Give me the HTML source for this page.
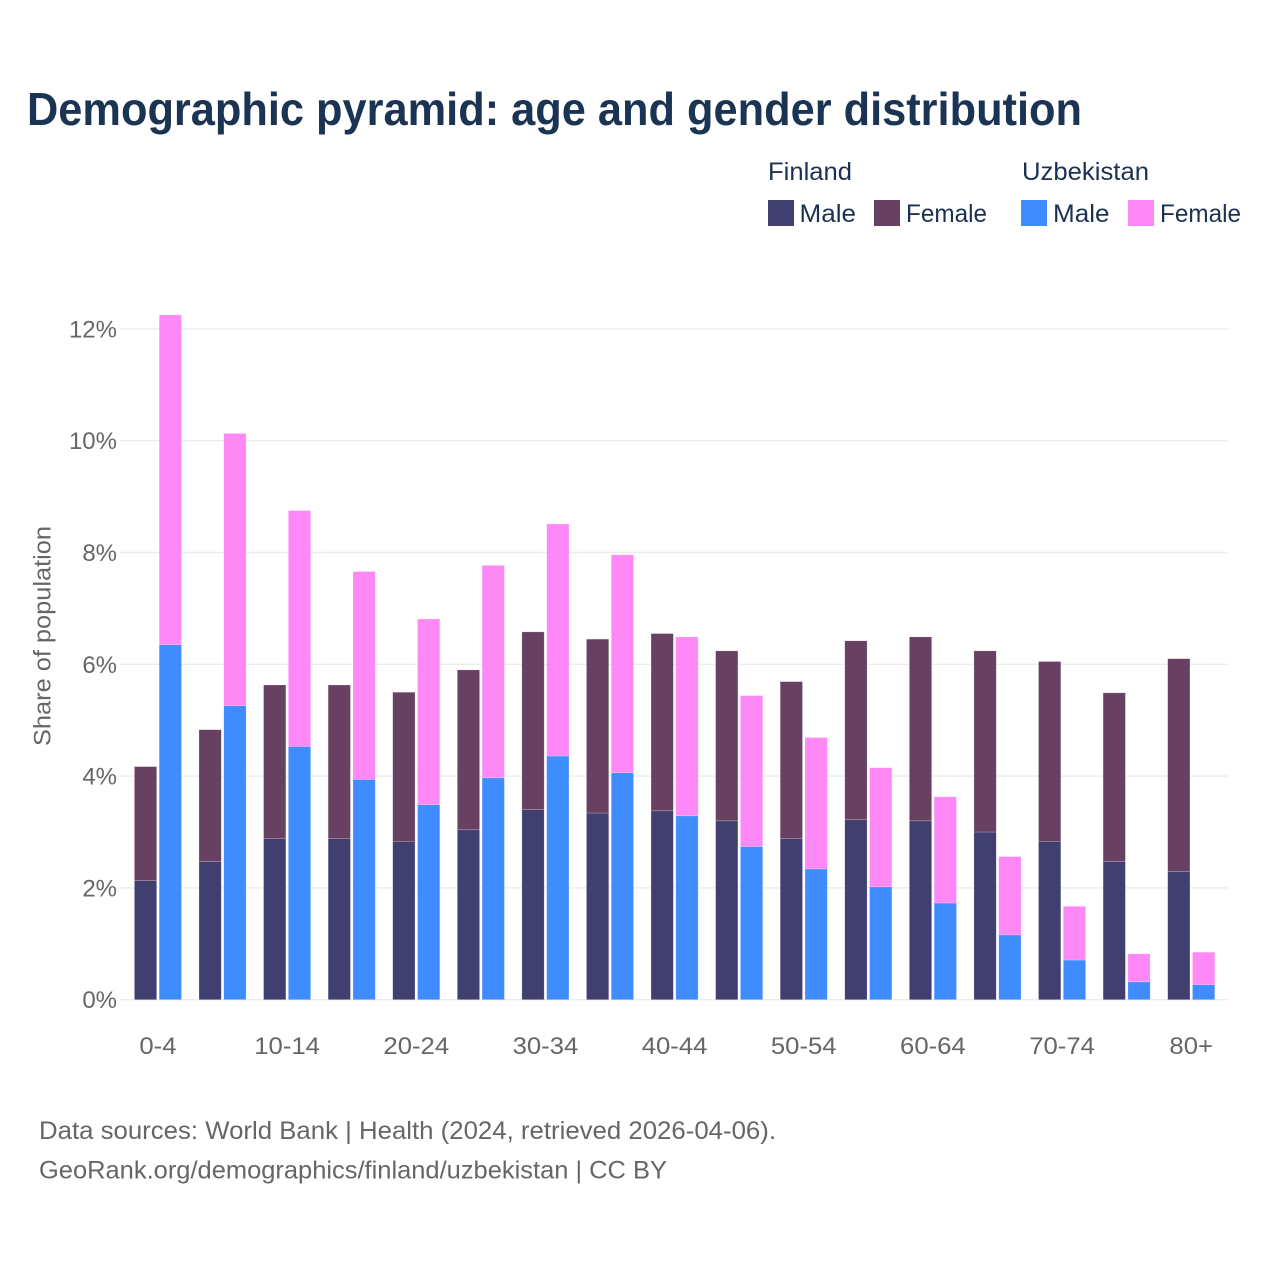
<!DOCTYPE html>
<html lang="en">
<head>
<meta charset="utf-8">
<title>Demographic pyramid</title>
<style>
html,body{margin:0;padding:0;background:#fff;width:1280px;height:1280px;overflow:hidden}
svg{display:block;font-family:"Liberation Sans",sans-serif}
</style>
</head>
<body>
<svg id="chart" xmlns="http://www.w3.org/2000/svg" width="1280" height="1280" viewBox="0 0 1280 1280">
<rect x="0" y="0" width="1280" height="1280" fill="#fff"/>
<text x="27" y="125" font-size="46" font-weight="700" fill="#1b3453" textLength="1055" lengthAdjust="spacingAndGlyphs">Demographic pyramid: age and gender distribution</text>
<g font-size="25" fill="#1b3153">
<text x="768" y="180" textLength="84" lengthAdjust="spacingAndGlyphs">Finland</text>
<text x="1022" y="180" textLength="127" lengthAdjust="spacingAndGlyphs">Uzbekistan</text>
<rect x="768" y="200" width="26" height="26" fill="#413f70"/>
<text x="799.5" y="222" textLength="56.5" lengthAdjust="spacingAndGlyphs">Male</text>
<rect x="874" y="200" width="26" height="26" fill="#674062"/>
<text x="906" y="222" textLength="81" lengthAdjust="spacingAndGlyphs">Female</text>
<rect x="1021" y="200" width="26" height="26" fill="#3f8cff"/>
<text x="1053" y="222" textLength="56.5" lengthAdjust="spacingAndGlyphs">Male</text>
<rect x="1128" y="200" width="26" height="26" fill="#ff88f7"/>
<text x="1160" y="222" textLength="81" lengthAdjust="spacingAndGlyphs">Female</text>
</g>
<text transform="translate(50.5,746) rotate(-90)" font-size="24" fill="#666" textLength="220" lengthAdjust="spacingAndGlyphs">Share of population</text>
<g id="grid"></g>
<g id="bars"></g>
<g id="xticks"></g>
<g font-size="25" fill="#666">
<text x="39" y="1139" textLength="737" lengthAdjust="spacingAndGlyphs">Data sources: World Bank | Health (2024, retrieved 2026-04-06).</text>
<text x="39" y="1178.5" textLength="628" lengthAdjust="spacingAndGlyphs">GeoRank.org/demographics/finland/uzbekistan | CC BY</text>
</g>
</svg>
<script>
const categories = ["0-4","5-9","10-14","15-19","20-24","25-29","30-34","35-39","40-44","45-49","50-54","55-59","60-64","65-69","70-74","75-79","80+"];
const xTickLabels = ["0-4","10-14","20-24","30-34","40-44","50-54","60-64","70-74","80+"];
const yTicks = [0,2,4,6,8,10,12];
const finlandMale = [2.13,2.47,2.88,2.88,2.83,3.04,3.40,3.34,3.38,3.20,2.88,3.22,3.20,3.00,2.83,2.47,2.29];
const finlandFemale = [2.04,2.36,2.75,2.75,2.67,2.86,3.18,3.11,3.17,3.04,2.81,3.20,3.29,3.24,3.22,3.02,3.81];
const uzbekistanMale = [6.35,5.26,4.53,3.94,3.49,3.97,4.36,4.06,3.29,2.74,2.34,2.02,1.73,1.16,0.71,0.32,0.27];
const uzbekistanFemale = [5.90,4.87,4.22,3.72,3.32,3.80,4.15,3.90,3.20,2.70,2.35,2.13,1.90,1.40,0.96,0.50,0.58];

const NS = "http://www.w3.org/2000/svg";
function yScale(v){ return 999.7 - v * 55.9; }
function xCenter(i){ return 157.95 + i * 64.58; }
const barWidth = 22.3;
const barGap = 1.25;

const grid = document.getElementById('grid');
yTicks.forEach(function(t){
  const line = document.createElementNS(NS,'line');
  
  
  line.setAttribute('x1', 120);
  line.setAttribute('x2', 1228);
  line.setAttribute('y1', yScale(t));
  line.setAttribute('y2', yScale(t));
  line.setAttribute('stroke', '#ececec');
  line.setAttribute('stroke-width', 1.4);
  grid.appendChild(line);
  const label = document.createElementNS(NS,'text');
  
  
  label.setAttribute('x', 117);
  label.setAttribute('y', yScale(t) + 8.5);
  label.setAttribute('text-anchor', 'end');
  label.setAttribute('font-size', 24);
  label.setAttribute('fill', '#666');
  label.textContent = t + '%';
  grid.appendChild(label);
});

const bars = document.getElementById('bars');
function addSegment(x, base, val, color, name){
  const r = document.createElementNS(NS,'rect');
  
  
  r.setAttribute('x', x);
  r.setAttribute('y', yScale(base + val));
  r.setAttribute('width', barWidth);
  r.setAttribute('height', yScale(base) - yScale(base + val));
  r.setAttribute('fill', color);
  r.setAttribute('stroke', 'rgba(255,255,255,0.35)');
  r.setAttribute('stroke-width', 0.6);
  bars.appendChild(r);
}
categories.forEach(function(c,i){
  const left = xCenter(i) - barWidth - barGap;
  const right = xCenter(i) + barGap;
  addSegment(left, 0, finlandMale[i], '#413f70', 'bar-finland-male');
  addSegment(left, finlandMale[i], finlandFemale[i], '#674062', 'bar-finland-female');
  addSegment(right, 0, uzbekistanMale[i], '#3f8cff', 'bar-uzbekistan-male');
  addSegment(right, uzbekistanMale[i], uzbekistanFemale[i], '#ff88f7', 'bar-uzbekistan-female');
});

const xticks = document.getElementById('xticks');
xTickLabels.forEach(function(lab){
  const t = document.createElementNS(NS,'text');
  
  
  t.setAttribute('x', xCenter(categories.indexOf(lab)));
  t.setAttribute('y', 1054);
  t.setAttribute('text-anchor', 'middle');
  t.setAttribute('font-size', 24);
  t.setAttribute('fill', '#666');
  t.textContent = lab;
  xticks.appendChild(t);
  t.setAttribute('textLength', t.getComputedTextLength() * 1.07);
  t.setAttribute('lengthAdjust', 'spacingAndGlyphs');
});
</script>
</body>
</html>
